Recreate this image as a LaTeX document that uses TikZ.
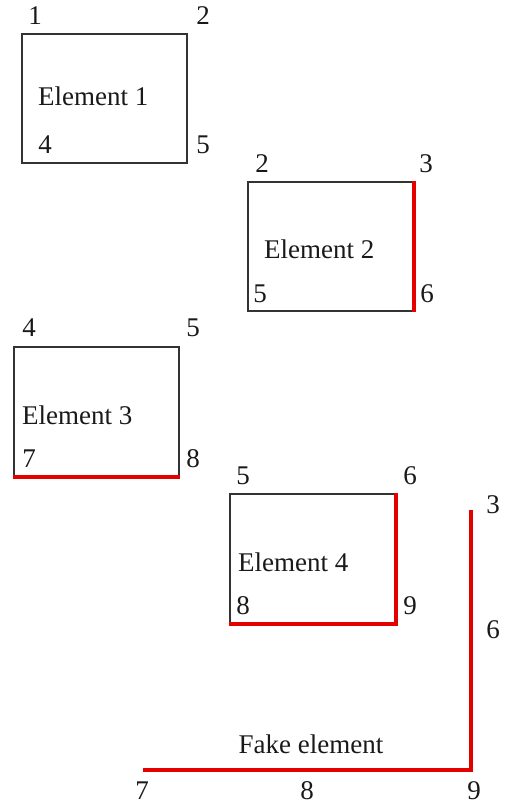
\documentclass[tikz,border=0pt]{standalone}
\usepackage{fontspec}
\setmainfont{Liberation Serif}
\begin{document}
\begin{tikzpicture}[x=1pt,y=-1pt,
  elem/.style={draw=black!80, line width=2pt, minimum width=165pt,
    minimum height=129pt, inner sep=0pt, anchor=north west},
  lbl/.style={inner sep=0pt, text=black!90, font=\fontsize{27}{30}\selectfont},
  elemtitle/.style={lbl, anchor=west},
  redge/.style={draw=red!90!black, line width=4pt}]
\useasboundingbox (0,0) rectangle (504,805);

% Element 1
\node[elem] (e1) at (21,33) {};
\node[lbl] (e1n1) at (35,16) {1};
\node[lbl] (e1n2) at (203,16) {2};
\node[elemtitle] (e1t) at (38,96) {Element 1};
\node[lbl] (e1n4) at (45,145) {4};
\node[lbl] (e1n5) at (203,145) {5};

% Element 2
\node[elem] (e2) at (247,181) {};
\node[lbl] (e2n2) at (262,164) {2};
\node[lbl] (e2n3) at (426,164) {3};
\node[elemtitle] (e2t) at (264,249) {Element 2};
\node[lbl] (e2n5) at (260,294) {5};
\node[lbl] (e2n6) at (427,294) {6};
\draw[redge] (e2.north east) -- (e2.south east);

% Element 3
\node[elem] (e3) at (13,346) {};
\node[lbl] (e3n4) at (29,328) {4};
\node[lbl] (e3n5) at (193,328) {5};
\node[elemtitle] (e3t) at (22,415) {Element 3};
\node[lbl] (e3n7) at (29,459) {7};
\node[lbl] (e3n8) at (193,459) {8};
\draw[redge] (e3.south west) -- (e3.south east);

% Element 4
\node[elem] (e4) at (229,493) {};
\node[lbl] (e4n5) at (243,476) {5};
\node[lbl] (e4n6) at (410,476) {6};
\node[elemtitle] (e4t) at (238,562) {Element 4};
\node[lbl] (e4n8) at (243,606) {8};
\node[lbl] (e4n9) at (410,606) {9};
\draw[redge] (e4.north east) -- (e4.south east) -- (e4.south west);

% Fake element
\coordinate (f3) at (471,510);
\coordinate (f9) at (471,770);
\coordinate (f7) at (143,770);
\draw[redge] (f3) -- (f9) -- (f7);
\node[lbl] (fn3) at (493,505) {3};
\node[lbl] (fn6) at (493,630) {6};
\node[lbl] (ft) at (311,744) {Fake element};
\node[lbl] (fn7) at (142,791) {7};
\node[lbl] (fn8) at (307,791) {8};
\node[lbl] (fn9) at (474,791) {9};
\end{tikzpicture}
\end{document}
